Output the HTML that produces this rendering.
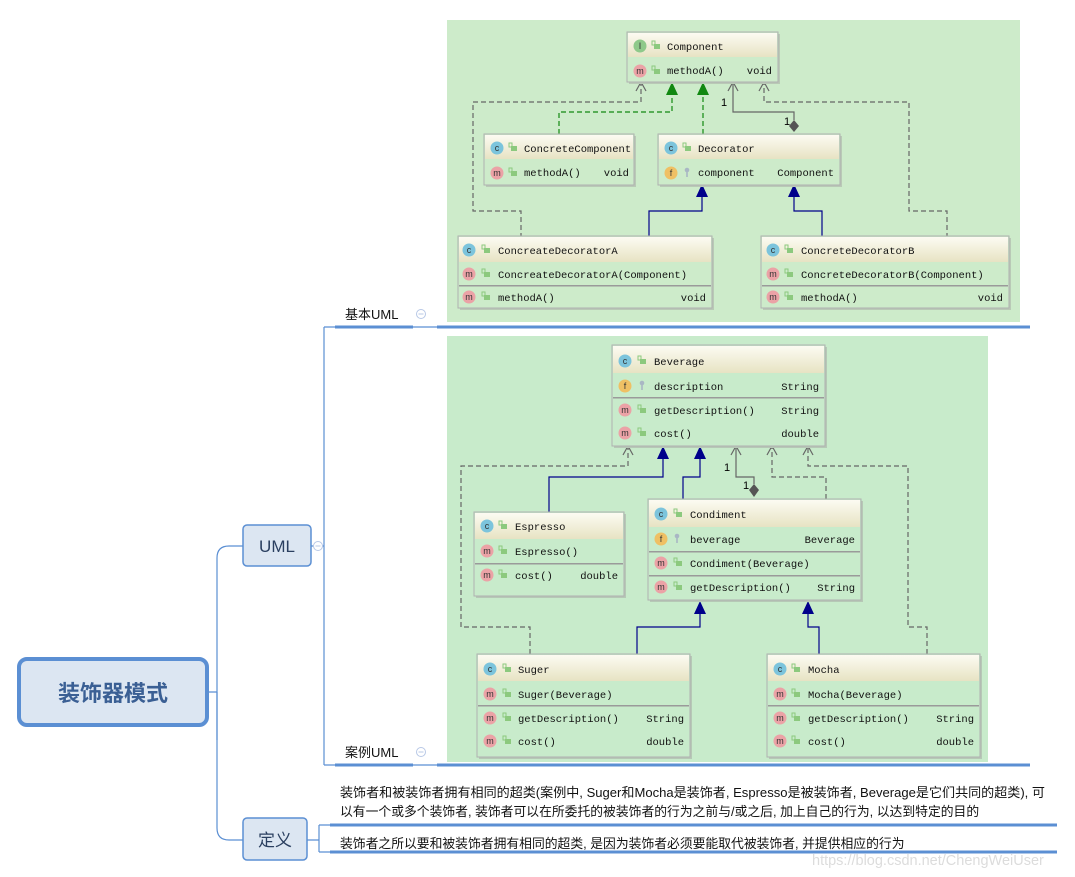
<!DOCTYPE html>
<html><head><meta charset="utf-8"><style>
html,body{margin:0;padding:0;background:#fff;width:1075px;height:877px;overflow:hidden}
svg{display:block}
.t{font-family:"Liberation Mono",monospace;font-size:10.5px;fill:#111}
.ic{font-family:"Liberation Sans",sans-serif;font-size:9px;fill:#333;text-anchor:middle}
.cn{font-family:"Liberation Sans","Noto Sans CJK SC",sans-serif;fill:#111}
</style></head><body>
<svg width="1075" height="877" viewBox="0 0 1075 877" xmlns="http://www.w3.org/2000/svg">
<defs>
<linearGradient id="hd" x1="0" y1="0" x2="0" y2="1"><stop offset="0" stop-color="#fcfbf2"/><stop offset="1" stop-color="#e7e3c3"/></linearGradient>
<g id="lk"><rect x="0" y="2" width="6" height="5" fill="#8cc97e"/><rect x="-2" y="-1" width="3" height="4" fill="none" stroke="#8cc97e" stroke-width="1"/></g>
<g id="ky"><circle cx="0" cy="-2" r="2.3" fill="#a9b7c4"/><rect x="-0.8" y="0" width="1.6" height="5" fill="#a9b7c4"/></g>
<g id="iC"><circle r="6.5" fill="#7cc4dc"/><text class="ic" y="3">c</text></g>
<g id="iI"><circle r="6.5" fill="#8ec98a"/><text class="ic" y="3">I</text></g>
<g id="iM"><circle r="6.5" fill="#eba2a6"/><text class="ic" y="3">m</text></g>
<g id="iF"><circle r="6.5" fill="#efc064"/><text class="ic" y="3">f</text></g>
<g id="col"><circle r="4.5" fill="#fff" stroke="#b8c8e6"/><line x1="-2.5" y1="0" x2="2.5" y2="0" stroke="#b8c8e6"/></g>
</defs>

<!-- mind map -->
<g fill="none" stroke="#5b8fd3">
<path d="M209 692 H217 M217 740 V558 Q217 546 229 546 H243" stroke-width="1.2"/>
<path d="M217 692 V828 Q217 840 229 840 H243" stroke-width="1.2"/>
<path d="M311 546 H324 M324 327 V765 M324 327 H437 M324 765 H437" stroke-width="1.2"/>
<path d="M335 327 H413 M437 327 H1030 M335 765 H413 M437 765 H1030" stroke-width="3"/>
<path d="M307 840 H319 M319 825 V852 M319 825 H330 M319 852 H330" stroke-width="1.2"/>
<path d="M330 825 H1057 M330 852 H1057" stroke-width="3"/>
</g>
<rect x="19" y="659" width="188" height="66" rx="8" fill="#dce6f2" stroke="#5b8fd3" stroke-width="4"/>
<text x="113" y="701" class="cn" font-size="22" font-weight="bold" text-anchor="middle" style="fill:#3a5f94">装饰器模式</text>
<rect x="243" y="525" width="68" height="41" rx="4" fill="#dce6f2" stroke="#5b8fd3" stroke-width="1.5"/>
<text x="277" y="552" class="cn" font-size="17" text-anchor="middle" style="fill:#2a3f60">UML</text>
<rect x="243" y="818" width="64" height="42" rx="4" fill="#dce6f2" stroke="#5b8fd3" stroke-width="1.5"/>
<text x="275" y="846" class="cn" font-size="17" text-anchor="middle" style="fill:#2a3f60">定义</text>
<use href="#col" x="318" y="546"/>
<text x="345" y="319" class="cn" font-size="13">基本UML</text>
<use href="#col" x="421" y="314"/>
<text x="345" y="757" class="cn" font-size="13">案例UML</text>
<use href="#col" x="421" y="752"/>
<text x="340" y="797" class="cn" font-size="12.8" textLength="705" lengthAdjust="spacingAndGlyphs">装饰者和被装饰者拥有相同的超类(案例中, Suger和Mocha是装饰者, Espresso是被装饰者, Beverage是它们共同的超类), 可</text>
<text x="340" y="816" class="cn" font-size="12.8">以有一个或多个装饰者, 装饰者可以在所委托的被装饰者的行为之前与/或之后, 加上自己的行为, 以达到特定的目的</text>
<text x="340" y="848" class="cn" font-size="12.8">装饰者之所以要和被装饰者拥有相同的超类, 是因为装饰者必须要能取代被装饰者, 并提供相应的行为</text>
<text x="812" y="865" class="cn" font-size="14.5" style="fill:#dcdcdc">https://blog.csdn.net/ChengWeiUser</text>

<!-- panels -->
<rect x="447" y="20" width="573" height="302" fill="#cdebca"/>
<rect x="447" y="336" width="541" height="426" fill="#c8ebcb"/>

<!-- panel 1 edges -->
<g fill="none" stroke-width="1.2">
<path d="M521 238 V211 H473 V102 H641 V82" stroke="#666" stroke-dasharray="5,3"/>
<path d="M947 238 V211 H909 V102 H764 V82" stroke="#666" stroke-dasharray="5,3"/>
<path d="M559 134 V112 H672 V94" stroke="#118811" stroke-dasharray="5,3"/>
<path d="M703 134 V94" stroke="#118811" stroke-dasharray="5,3"/>
<path d="M794 120 V112 H733 V82" stroke="#666"/>
<path d="M649 238 V211 H702 V196 M822 238 V211 H794 V196" stroke="#00008b"/>
<path d="M636 91 L641 82 L646 91 M728 91 L733 82 L738 91 M759 91 L764 82 L769 91" stroke="#666"/>
</g>
<path d="M672 82 L666 95 L678 95 Z M703 82 L697 95 L709 95 Z" fill="#118811"/>
<path d="M702 184 L696 197 L708 197 Z M794 184 L788 197 L800 197 Z" fill="#00008b"/>
<path d="M794 120 L799 126 L794 132 L789 126 Z" fill="#555"/>
<text x="721" y="106" font-family="Liberation Sans" font-size="11">1</text>
<text x="784" y="125" font-family="Liberation Sans" font-size="11">1</text>

<!-- panel 2 edges -->
<g fill="none" stroke-width="1.2">
<path d="M530 654 V627 H461 V466 H628 V446" stroke="#666" stroke-dasharray="5,3"/>
<path d="M927 654 V627 H908 V466 H808 V446" stroke="#666" stroke-dasharray="5,3"/>
<path d="M826 499 V477 H772 V446" stroke="#666" stroke-dasharray="5,3"/>
<path d="M754 484 V477 H736 V446" stroke="#666"/>
<path d="M549 512 V477 H663 V458 M683 499 V477 H700 V458 M637 654 V627 H700 V613 M819 654 V627 H808 V613" stroke="#00008b"/>
<path d="M623 455 L628 446 L633 455 M731 455 L736 446 L741 455 M767 455 L772 446 L777 455 M803 455 L808 446 L813 455" stroke="#666"/>
</g>
<path d="M663 446 L657 459 L669 459 Z M700 446 L694 459 L706 459 Z M700 601 L694 614 L706 614 Z M808 601 L802 614 L814 614 Z" fill="#00008b"/>
<path d="M754 484 L759 490 L754 497 L749 490 Z" fill="#555"/>
<text x="724" y="471" font-family="Liberation Sans" font-size="11">1</text>
<text x="743" y="489" font-family="Liberation Sans" font-size="11">1</text>

<!-- class boxes -->
<g stroke="none">
<rect x="629" y="34" width="151" height="50" fill="#b9c9b6"/>
<rect x="627" y="32" width="151" height="50" fill="#cdebca" stroke="#b0b0b0"/>
<rect x="628" y="33" width="149" height="24" fill="url(#hd)"/>
<use href="#iI" x="640" y="46"/><use href="#lk" x="654" y="42"/><text class="t" x="667" y="50">Component</text>
<use href="#iM" x="640" y="71"/><use href="#lk" x="654" y="67"/><text class="t" x="667" y="74">methodA()</text><text class="t" x="772" y="74" text-anchor="end">void</text>

<rect x="486" y="136" width="150" height="51" fill="#b9c9b6"/>
<rect x="484" y="134" width="150" height="51" fill="#cdebca" stroke="#b0b0b0"/>
<rect x="485" y="135" width="148" height="24" fill="url(#hd)"/>
<use href="#iC" x="497" y="148"/><use href="#lk" x="511" y="144"/><text class="t" x="524" y="152">ConcreteComponent</text>
<use href="#iM" x="497" y="173"/><use href="#lk" x="511" y="169"/><text class="t" x="524" y="176">methodA()</text><text class="t" x="629" y="176" text-anchor="end">void</text>

<rect x="660" y="136" width="182" height="51" fill="#b9c9b6"/>
<rect x="658" y="134" width="182" height="51" fill="#cdebca" stroke="#b0b0b0"/>
<rect x="659" y="135" width="180" height="24" fill="url(#hd)"/>
<use href="#iC" x="671" y="148"/><use href="#lk" x="685" y="144"/><text class="t" x="698" y="152">Decorator</text>
<use href="#iF" x="671" y="173"/><use href="#ky" x="687" y="172"/><text class="t" x="698" y="176">component</text><text class="t" x="834" y="176" text-anchor="end">Component</text>

<rect x="460" y="238" width="254" height="72" fill="#b9c9b6"/>
<rect x="458" y="236" width="254" height="72" fill="#cdebca" stroke="#b0b0b0"/>
<rect x="459" y="237" width="252" height="25" fill="url(#hd)"/>
<rect x="459" y="285" width="252" height="1.5" fill="#9a9a9a"/>
<use href="#iC" x="469" y="250"/><use href="#lk" x="484" y="246"/><text class="t" x="498" y="254">ConcreateDecoratorA</text>
<use href="#iM" x="469" y="274"/><use href="#lk" x="484" y="270"/><text class="t" x="498" y="278">ConcreateDecoratorA(Component)</text>
<use href="#iM" x="469" y="297"/><use href="#lk" x="484" y="293"/><text class="t" x="498" y="301">methodA()</text><text class="t" x="706" y="301" text-anchor="end">void</text>

<rect x="763" y="238" width="248" height="72" fill="#b9c9b6"/>
<rect x="761" y="236" width="248" height="72" fill="#cdebca" stroke="#b0b0b0"/>
<rect x="762" y="237" width="246" height="25" fill="url(#hd)"/>
<rect x="762" y="285" width="246" height="1.5" fill="#9a9a9a"/>
<use href="#iC" x="773" y="250"/><use href="#lk" x="787" y="246"/><text class="t" x="801" y="254">ConcreteDecoratorB</text>
<use href="#iM" x="773" y="274"/><use href="#lk" x="787" y="270"/><text class="t" x="801" y="278">ConcreteDecoratorB(Component)</text>
<use href="#iM" x="773" y="297"/><use href="#lk" x="787" y="293"/><text class="t" x="801" y="301">methodA()</text><text class="t" x="1003" y="301" text-anchor="end">void</text>

<rect x="614" y="347" width="213" height="101" fill="#b6c8b6"/>
<rect x="612" y="345" width="213" height="101" fill="#c8ebcb" stroke="#b0b0b0"/>
<rect x="613" y="346" width="211" height="27" fill="url(#hd)"/>
<rect x="613" y="397" width="211" height="1.5" fill="#9a9a9a"/>
<use href="#iC" x="625" y="361"/><use href="#lk" x="640" y="357"/><text class="t" x="654" y="365">Beverage</text>
<use href="#iF" x="625" y="386"/><use href="#ky" x="642" y="385"/><text class="t" x="654" y="390">description</text><text class="t" x="819" y="390" text-anchor="end">String</text>
<use href="#iM" x="625" y="410"/><use href="#lk" x="640" y="406"/><text class="t" x="654" y="414">getDescription()</text><text class="t" x="819" y="414" text-anchor="end">String</text>
<use href="#iM" x="625" y="433"/><use href="#lk" x="640" y="429"/><text class="t" x="654" y="437">cost()</text><text class="t" x="819" y="437" text-anchor="end">double</text>

<rect x="476" y="514" width="150" height="84" fill="#b6c8b6"/>
<rect x="474" y="512" width="150" height="84" fill="#c8ebcb" stroke="#b0b0b0"/>
<rect x="475" y="513" width="148" height="26" fill="url(#hd)"/>
<rect x="475" y="563" width="148" height="1.5" fill="#9a9a9a"/>
<use href="#iC" x="487" y="526"/><use href="#lk" x="501" y="522"/><text class="t" x="515" y="530">Espresso</text>
<use href="#iM" x="487" y="551"/><use href="#lk" x="501" y="547"/><text class="t" x="515" y="555">Espresso()</text>
<use href="#iM" x="487" y="575"/><use href="#lk" x="501" y="571"/><text class="t" x="515" y="579">cost()</text><text class="t" x="618" y="579" text-anchor="end">double</text>

<rect x="650" y="501" width="213" height="101" fill="#b6c8b6"/>
<rect x="648" y="499" width="213" height="101" fill="#c8ebcb" stroke="#b0b0b0"/>
<rect x="649" y="500" width="211" height="27" fill="url(#hd)"/>
<rect x="649" y="551" width="211" height="1.5" fill="#9a9a9a"/>
<rect x="649" y="575" width="211" height="1.5" fill="#9a9a9a"/>
<use href="#iC" x="661" y="514"/><use href="#lk" x="676" y="510"/><text class="t" x="690" y="518">Condiment</text>
<use href="#iF" x="661" y="539"/><use href="#ky" x="677" y="538"/><text class="t" x="690" y="543">beverage</text><text class="t" x="855" y="543" text-anchor="end">Beverage</text>
<use href="#iM" x="661" y="563"/><use href="#lk" x="676" y="559"/><text class="t" x="690" y="567">Condiment(Beverage)</text>
<use href="#iM" x="661" y="587"/><use href="#lk" x="676" y="583"/><text class="t" x="690" y="591">getDescription()</text><text class="t" x="855" y="591" text-anchor="end">String</text>

<rect x="479" y="656" width="213" height="103" fill="#b6c8b6"/>
<rect x="477" y="654" width="213" height="103" fill="#c8ebcb" stroke="#b0b0b0"/>
<rect x="478" y="655" width="211" height="26" fill="url(#hd)"/>
<rect x="478" y="705" width="211" height="1.5" fill="#9a9a9a"/>
<use href="#iC" x="490" y="669"/><use href="#lk" x="505" y="665"/><text class="t" x="518" y="673">Suger</text>
<use href="#iM" x="490" y="694"/><use href="#lk" x="505" y="690"/><text class="t" x="518" y="698">Suger(Beverage)</text>
<use href="#iM" x="490" y="718"/><use href="#lk" x="505" y="714"/><text class="t" x="518" y="722">getDescription()</text><text class="t" x="684" y="722" text-anchor="end">String</text>
<use href="#iM" x="490" y="741"/><use href="#lk" x="505" y="737"/><text class="t" x="518" y="745">cost()</text><text class="t" x="684" y="745" text-anchor="end">double</text>

<rect x="769" y="656" width="213" height="103" fill="#b6c8b6"/>
<rect x="767" y="654" width="213" height="103" fill="#c8ebcb" stroke="#b0b0b0"/>
<rect x="768" y="655" width="211" height="26" fill="url(#hd)"/>
<rect x="768" y="705" width="211" height="1.5" fill="#9a9a9a"/>
<use href="#iC" x="780" y="669"/><use href="#lk" x="794" y="665"/><text class="t" x="808" y="673">Mocha</text>
<use href="#iM" x="780" y="694"/><use href="#lk" x="794" y="690"/><text class="t" x="808" y="698">Mocha(Beverage)</text>
<use href="#iM" x="780" y="718"/><use href="#lk" x="794" y="714"/><text class="t" x="808" y="722">getDescription()</text><text class="t" x="974" y="722" text-anchor="end">String</text>
<use href="#iM" x="780" y="741"/><use href="#lk" x="794" y="737"/><text class="t" x="808" y="745">cost()</text><text class="t" x="974" y="745" text-anchor="end">double</text>
</g>
</svg>
</body></html>
